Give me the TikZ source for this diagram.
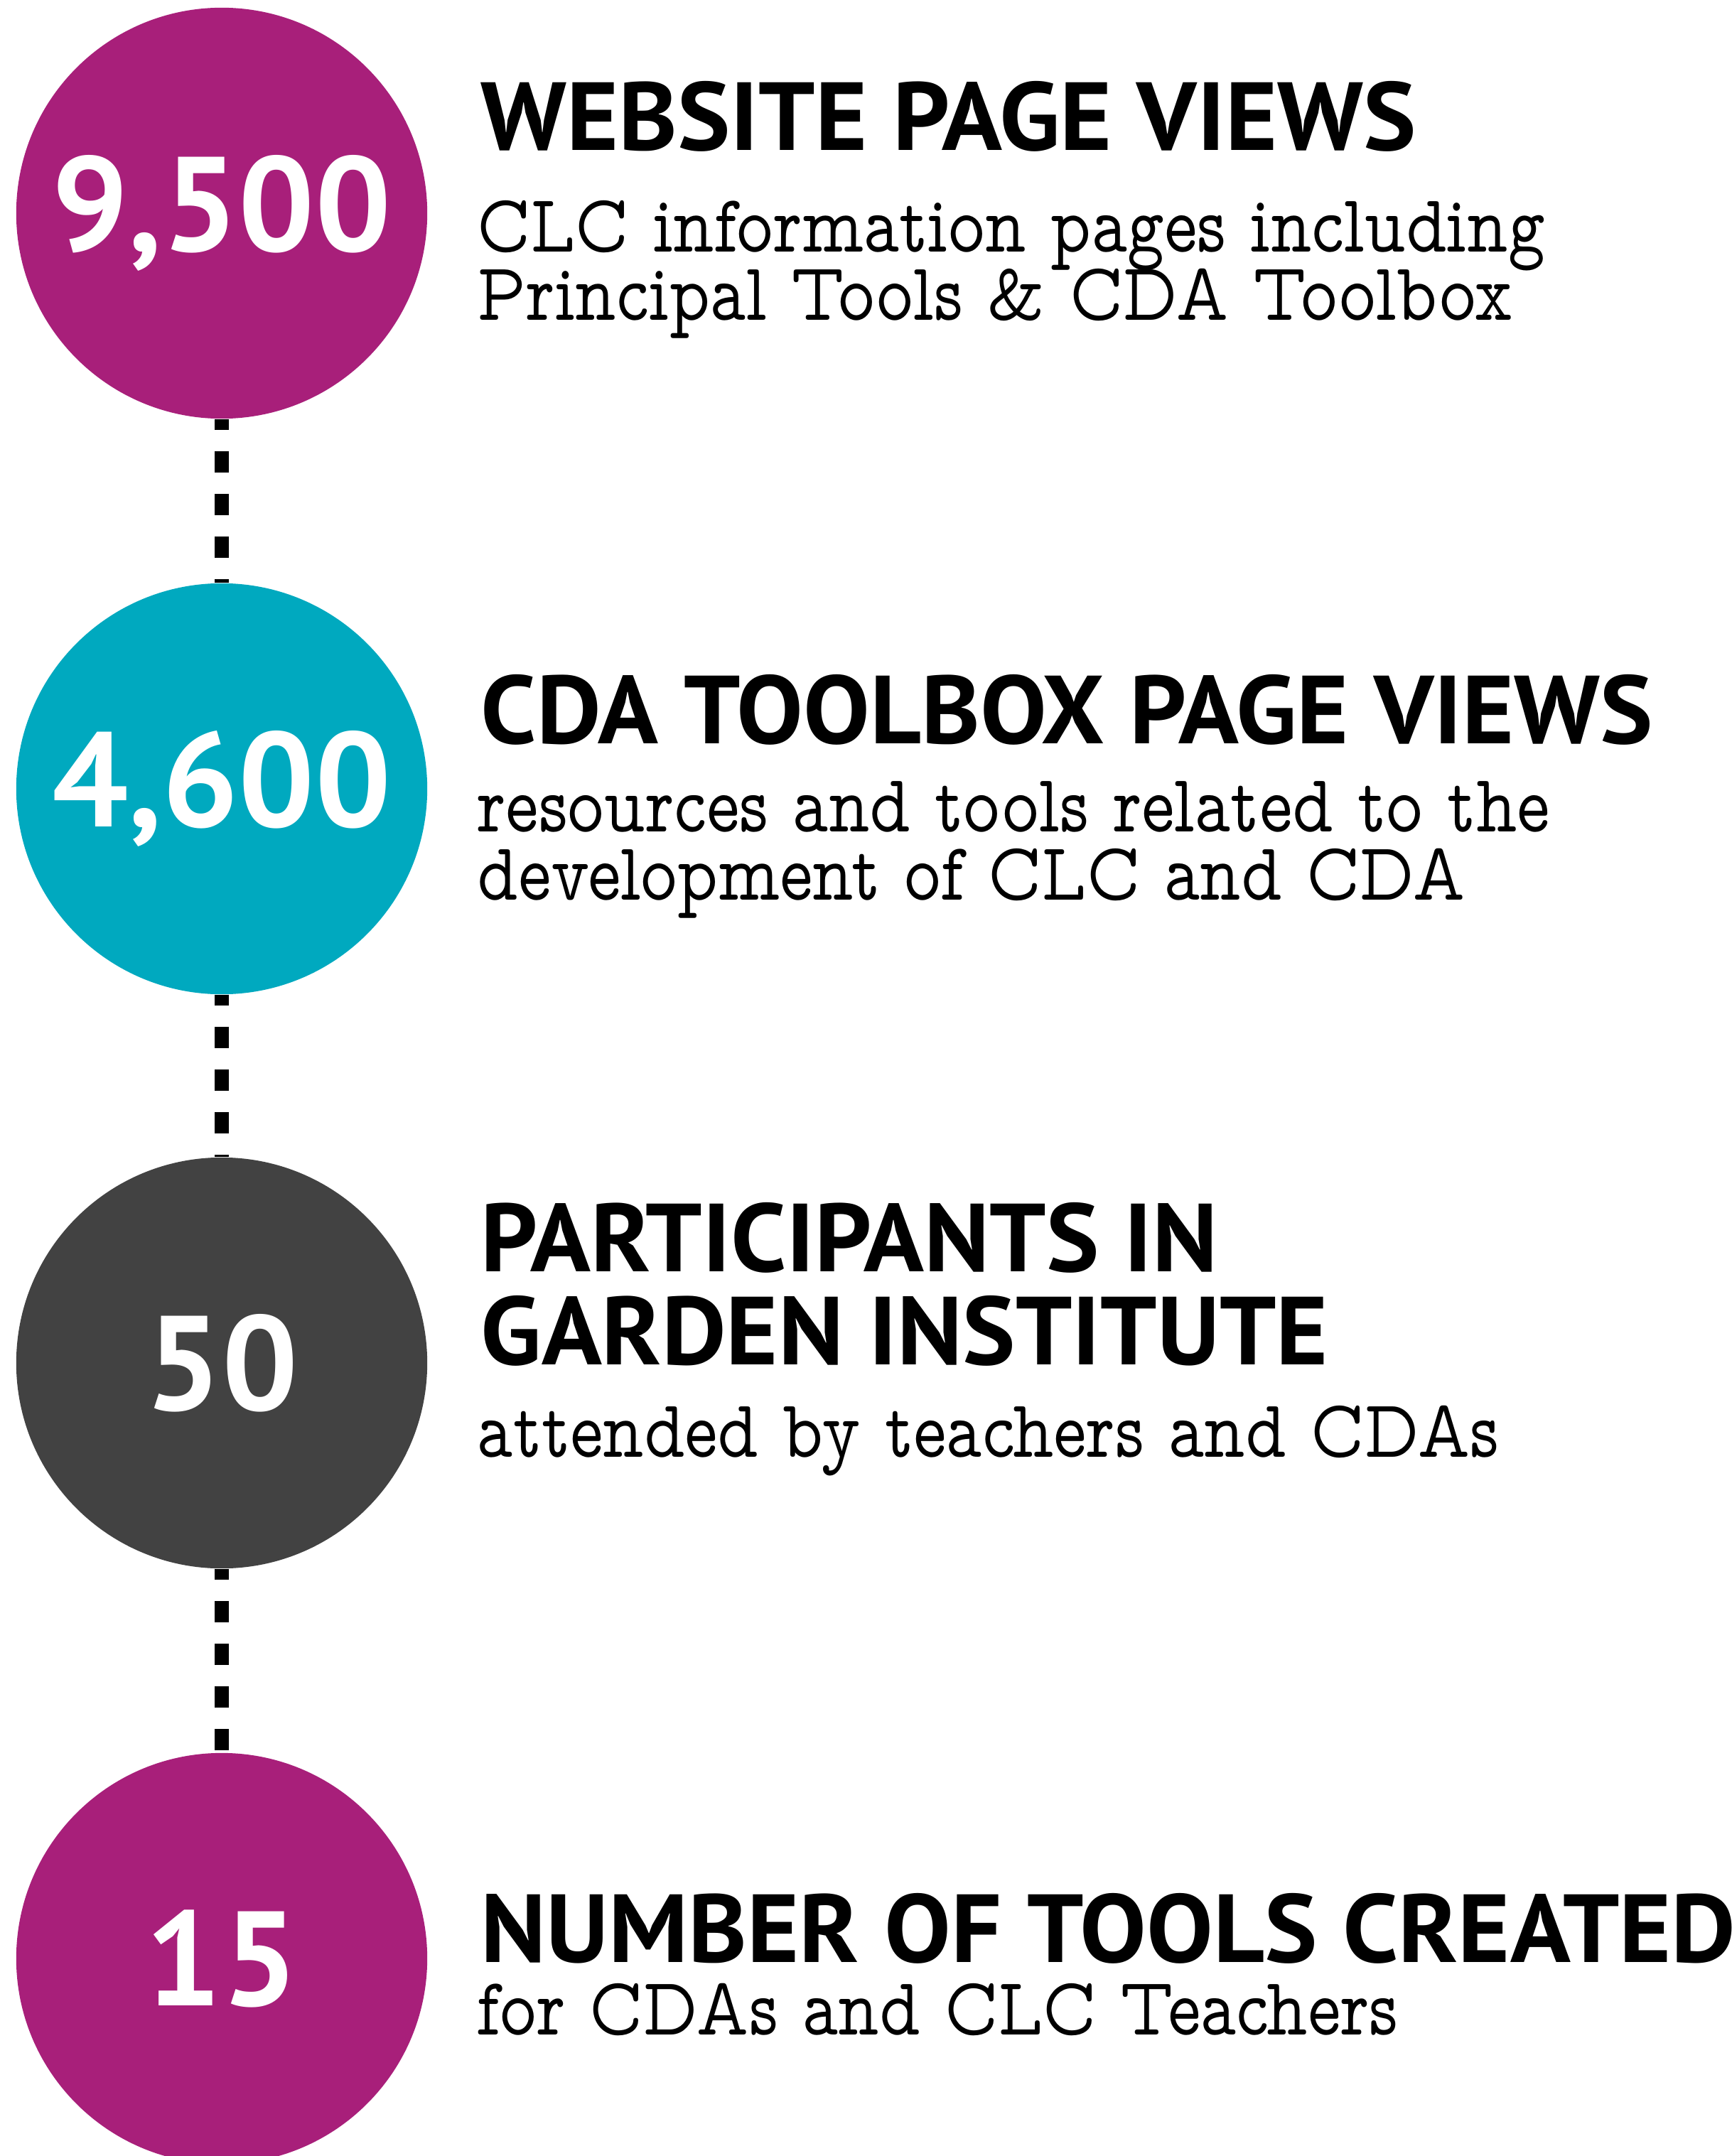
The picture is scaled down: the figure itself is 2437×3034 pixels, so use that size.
\documentclass[tikz,border=0pt]{standalone}
\usepackage{fontspec}
\usepackage{tikz}
\newfontfamily\headfamily{PT Sans}[FakeStretch=1.03]
\newfontfamily\numfamily{PT Sans}
\newfontfamily\bodyfamily{lmmonoprop10-regular.otf}[FakeStretch=0.85]
\newcommand\headfont{\headfamily\bfseries\fontsize{38.7}{40}\selectfont}
\newcommand\numfont{\numfamily\bfseries\fontsize{53.8}{56}\selectfont}
\newcommand\bodyfont{\bodyfamily\fontsize{33}{36}\selectfont}
\definecolor{clcmagenta}{RGB}{168,31,122}
\definecolor{clcteal}{RGB}{0,169,191}
\definecolor{clcgray}{RGB}{66,66,66}

\begin{document}
\begin{tikzpicture}[x=0.01cm,y=-0.01cm,
		stat/.style={circle,minimum size=5.78cm,inner sep=0pt,text=white,font=\numfont},
		head/.style={anchor=base west,inner sep=0pt,font=\headfont},
		body/.style={anchor=base west,inner sep=0pt,font=\bodyfont},
		link/.style={line width=0.19cm,dash pattern=on 0.3cm off 0.3cm,dash phase=0.15cm}]
		\useasboundingbox (0,0) rectangle (2437,3034);
		%\draw[help lines] (0,0) grid (2437,3034);
		\node[stat,fill=clcmagenta] (n1) at (312,300) {9,500};
		\node[stat,fill=clcteal] (n2) at (312,1110) {4,600};
		\node[stat,fill=clcgray] (n3) at (312,1918) {50};
		\node[stat,fill=clcmagenta] (n4) at (312,2756) {15};
		\draw[link] (n1.south) -- (n2.north);
		\draw[link] (n2.south) -- (n3.north);
		\draw[link] (n3.south) -- (n4.north);
		% first block
		\node[head] (h1) at (676,212) {WEBSITE PAGE VIEWS};
		\node[body] (d1a) at (671,355) {CLC information pages including};
		\node[body] (d1b) at (671,451) {Principal Tools \& CDA Toolbox};
		% second block
		\node[head] (h2) at (676,1046) {CDA TOOLBOX PAGE VIEWS};
		\node[body] (d2a) at (671,1170) {resources and tools related to the};
		\node[body] (d2b) at (671,1266) {development of CLC and CDA};
		% third block
		\node[head] (h3a) at (676,1789) {PARTICIPANTS IN};
		\node[head] (h3b) at (676,1920) {GARDEN INSTITUTE};
		\node[body] (d3) at (671,2050) {attended by teachers and CDAs};
		% fourth block
		\node[head] (h4) at (676,2761) {NUMBER OF TOOLS CREATED};
		\node[body] (d4) at (671,2863) {for CDAs and CLC Teachers};
	\end{tikzpicture}
\end{document}
